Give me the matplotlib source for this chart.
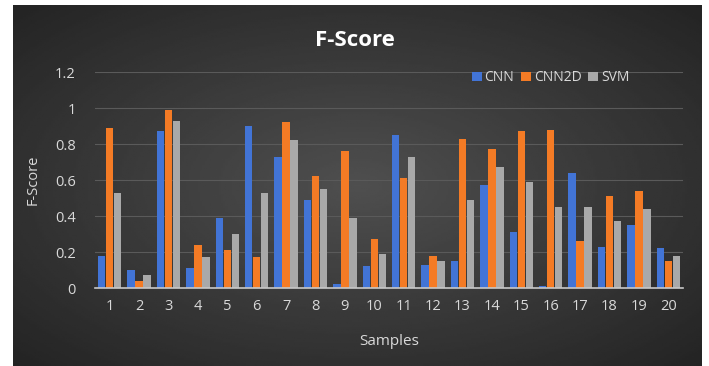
import matplotlib
matplotlib.use('Agg')
import matplotlib.pyplot as plt
import numpy as np

plt.rcParams['font.family'] = ['Open Sans', 'DejaVu Sans']

samples = [str(i) for i in range(1, 21)]
cnn = [0.18, 0.10, 0.87, 0.11, 0.39, 0.90, 0.73, 0.49, 0.02, 0.12,
       0.85, 0.13, 0.15, 0.57, 0.31, 0.01, 0.64, 0.23, 0.35, 0.22]
cnn2d = [0.89, 0.04, 0.99, 0.24, 0.21, 0.17, 0.92, 0.62, 0.76, 0.27,
         0.61, 0.18, 0.83, 0.77, 0.87, 0.88, 0.26, 0.51, 0.54, 0.15]
svm = [0.53, 0.07, 0.93, 0.17, 0.30, 0.53, 0.82, 0.55, 0.39, 0.19,
       0.73, 0.15, 0.49, 0.67, 0.59, 0.45, 0.45, 0.37, 0.44, 0.18]

fig = plt.figure(figsize=(7.09, 3.66), dpi=100, facecolor='white')

# dark radial background like the excel chart area
bg = fig.add_axes([13/709, 0, 689/709, 361/366])
yy, xx = np.mgrid[-1:1:200j, -1:1:300j]
r = np.sqrt(xx**2 + yy**2) / np.sqrt(2)
bg.imshow(0.31 - 0.17 * r, cmap='gray', vmin=0, vmax=1, aspect='auto',
          extent=[0, 1, 0, 1])
bg.set_axis_off()

ax = fig.add_axes([95/709, 78/366, 588/709, 216/366])
ax.set_facecolor('none')
x = np.arange(len(samples))
w = 0.25
ax.bar(x - 0.27, cnn, w, color='#4274d6', label='CNN', zorder=3)
ax.bar(x, cnn2d, w, color='#f47b25', label='CNN2D', zorder=3)
ax.bar(x + 0.27, svm, w, color='#a9a9a9', label='SVM', zorder=3)

ax.set_xlim(-0.5, len(samples) - 0.5)
ax.set_ylim(0, 1.2)
ax.set_yticks([0, 0.2, 0.4, 0.6, 0.8, 1.0, 1.2])
ax.set_yticklabels(['0', '0.2', '0.4', '0.6', '0.8', '1', '1.2'])
ax.set_xticks(x)
ax.set_xticklabels(samples)
ax.tick_params(colors='#d9d9d9', labelsize=10.5, length=0)
ax.tick_params(axis='x', pad=8)
ax.tick_params(axis='y', pad=14)
ax.grid(axis='y', color='#5a5a5a', linewidth=0.8, zorder=0)
for s in ['top', 'right', 'left']:
    ax.spines[s].set_visible(False)
ax.spines['bottom'].set_color('#c8c8c8')
ax.spines['bottom'].set_linewidth(1.2)
ax.spines['bottom'].set_zorder(4)

ax.set_xlabel('Samples', color='#d9d9d9', fontsize=11, labelpad=14)
ax.set_ylabel('F-Score', color='#d9d9d9', fontsize=10.5, labelpad=10)
fig.text(355/709, 1 - 40/366, 'F-Score', color='white', fontsize=16,
         fontweight='bold', ha='center', va='center')

leg = ax.legend(loc='upper right', bbox_to_anchor=(0.93, 1.065), ncol=3,
                frameon=False, fontsize=10, handlelength=0.7, handleheight=0.7,
                columnspacing=0.5, handletextpad=0.2)
for t in leg.get_texts():
    t.set_color('#d9d9d9')

fig.savefig('out.png', dpi=100, facecolor='white')
